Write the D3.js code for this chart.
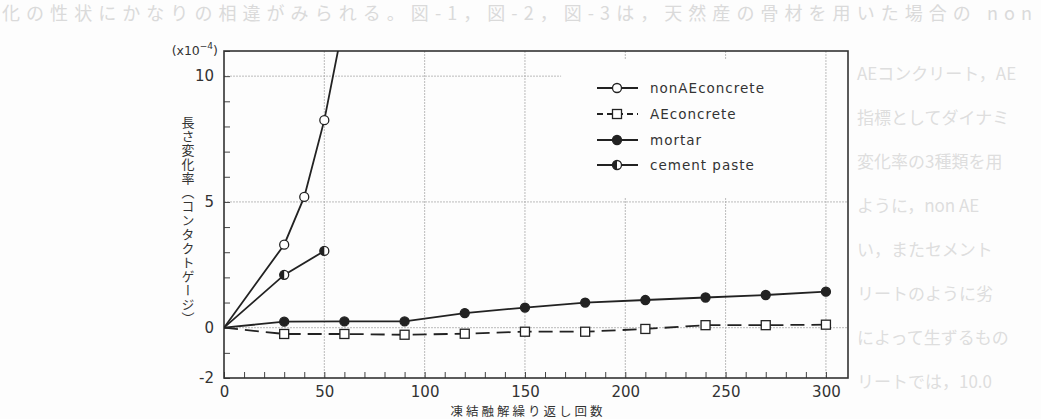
<!DOCTYPE html>
<html>
<head>
<meta charset="utf-8">
<script src="https://cdn.jsdelivr.net/npm/d3@7"></script>
<style>
  body { margin: 0; background: #fdfdfd; }
  svg { display: block; }
  .tick text { font-family: "DejaVu Sans", sans-serif; font-size: 15px; fill: #333; }
</style>
</head>
<body>
<svg id="svg" width="1041" height="419"></svg>
<script>
// freeze-thaw length change, 4 materials

var cycles = [0, 30, 60, 90, 120, 150, 180, 210, 240, 270, 300];
var mortar = [0, 0.24, 0.25, 0.25, 0.58, 0.8, 1.0, 1.1, 1.2, 1.3, 1.43];
var aeConcrete = [0, -0.25, -0.25, -0.28, -0.24, -0.16, -0.16, -0.05, 0.1, 0.1, 0.12];

var nonAeCycles = [0, 30, 40, 50, 60];
var nonAe = [0, 3.3, 5.2, 8.25, 12.3];

var pasteCycles = [0, 30, 50];
var paste = [0, 2.1, 3.05];

var xLabels = [0, 50, 100, 150, 200, 250, 300];
var yLabels = [-2, 0, 5, 10];
var legendNames = ["nonAEconcrete", "AEconcrete", "mortar", "cement paste"];

// page text around the figure (faint in the scan)
var pageTop = "化の性状にかなりの相違がみられる。図-1，図-2，図-3は，天然産の骨材を用いた場合の non";
var pageSide = [
  "AEコンクリート，AE",
  "指標としてダイナミ",
  "変化率の3種類を用",
  "ように，non AE",
  "い，またセメント",
  "リートのように劣",
  "によって生ずるもの",
  "リートでは，10.0"
];

var svg = d3.select("#svg");

svg.append("text").attr("x", 2).attr("y", 20).attr("textLength", 1030).attr("lengthAdjust", "spacing")
  .attr("font-family", "Noto Sans CJK JP").attr("font-size", 18).attr("fill", "#dadada").text(pageTop);
svg.selectAll(".side").data(pageSide).enter().append("text")
  .attr("x", 857).attr("y", function(d, i){ return 80 + i * 44; })
  .attr("font-family", "Noto Sans CJK JP").attr("font-size", 17).attr("fill", "#dedede")
  .text(function(d){ return d; });

var x = d3.scaleLinear().domain([0, 311]).range([224, 848]);
var y = d3.scaleLinear().domain([-2, 11]).range([378, 51]);

// grid (the 10 line stops short of the legend)
var grid = svg.append("g").attr("stroke", "#aaa").attr("stroke-width", 0.8).attr("stroke-dasharray", "2,1");
grid.selectAll(".gx").data([50, 100, 150, 200, 250, 300]).enter().append("line")
  .attr("x1", function(d){ return x(d); }).attr("x2", function(d){ return x(d); })
  .attr("y1", y(11)).attr("y2", y(-2));
grid.selectAll(".gy").data([0, 5, 10]).enter().append("line")
  .attr("x1", x(0)).attr("x2", function(d){ return d == 10 ? x(168) : x(311); })
  .attr("y1", function(d){ return y(d); }).attr("y2", function(d){ return y(d); });

// legend covers the grid
svg.append("rect").attr("x", 565).attr("y", 60).attr("width", 235).attr("height", 138).attr("fill", "#fdfdfd");

// axes
var xAxis = d3.axisBottom(x).tickValues(d3.range(0, 301, 10)).tickSize(-6).tickPadding(8)
  .tickFormat(function(d){ return xLabels.indexOf(d) >= 0 ? d : ""; });
var gx = svg.append("g").attr("transform", "translate(0," + y(-2) + ")").call(xAxis);
gx.select(".domain").remove();

var yAxis = d3.axisLeft(y).tickValues(d3.range(-2, 12, 1)).tickSize(-6).tickPadding(10)
  .tickFormat(function(d){ return yLabels.indexOf(d) >= 0 ? d : ""; });
var gy = svg.append("g").attr("transform", "translate(" + x(0) + ",0)").call(yAxis);
gy.select(".domain").remove();
svg.selectAll(".tick line").attr("stroke", "#444").attr("stroke-width", 1);

svg.append("rect").attr("x", x(0)).attr("y", y(11)).attr("width", x(311) - x(0)).attr("height", y(-2) - y(11))
  .attr("fill", "none").attr("stroke", "#333").attr("stroke-width", 1.6);

// clip
svg.append("clipPath").attr("id", "plot").append("rect")
  .attr("x", x(0)).attr("y", y(11)).attr("width", x(311) - x(0)).attr("height", y(-2) - y(11));

var plot = svg.append("g").attr("clip-path", "url(#plot)");
var line = d3.line().x(function(d){ return x(d[0]); }).y(function(d){ return y(d[1]); });

var zipped = function(xs, ys){ return xs.map(function(v, i){ return [v, ys[i]]; }); };

var series = [
  { pts: zipped(nonAeCycles, nonAe), dash: null, legDash: null, mark: "open" },
  { pts: zipped(cycles, aeConcrete), dash: "14,7", legDash: "6,4", mark: "square" },
  { pts: zipped(cycles, mortar), dash: null, legDash: null, mark: "dot" },
  { pts: zipped(pasteCycles, paste), dash: null, legDash: null, mark: "half" }
];

var marker = function(g, kind, cx, cy){
  if (kind == "square") {
    g.append("rect").attr("x", cx - 4.5).attr("y", cy - 4.5).attr("width", 9).attr("height", 9)
      .attr("fill", "#fff").attr("stroke", "#222").attr("stroke-width", 1.3);
  } else if (kind == "half") {
    g.append("circle").attr("cx", cx).attr("cy", cy).attr("r", 4.5).attr("fill", "#fff").attr("stroke", "#222").attr("stroke-width", 1.3);
    g.append("path").attr("d", "M" + cx + "," + (cy - 4.5) + "A4.5,4.5 0 0,0 " + cx + "," + (cy + 4.5) + "Z").attr("fill", "#222");
  } else {
    g.append("circle").attr("cx", cx).attr("cy", cy).attr("r", 4.5)
      .attr("fill", kind == "dot" ? "#222" : "#fff").attr("stroke", "#222").attr("stroke-width", 1.3);
  }
};

series.forEach(function(s){
  plot.append("path").attr("d", line(s.pts)).attr("fill", "none").attr("stroke", "#222")
    .attr("stroke-width", 1.8).attr("stroke-dasharray", s.dash);
});
series.forEach(function(s){
  s.pts.slice(1).forEach(function(p){
    if (y(p[1]) > y(11)) marker(plot, s.mark, x(p[0]), y(p[1]));
  });
});

// legend
var legY = [88, 114, 140, 165];
legendNames.forEach(function(name, i){
  var g = svg.append("g");
  g.append("line").attr("x1", 597).attr("x2", 638).attr("y1", legY[i]).attr("y2", legY[i])
    .attr("stroke", "#222").attr("stroke-width", 1.8).attr("stroke-dasharray", series[i].legDash);
  marker(g, series[i].mark, 617, legY[i]);
  g.append("text").attr("x", 650).attr("y", legY[i] + 5).text(name)
    .attr("font-family", "DejaVu Sans, sans-serif").attr("font-size", 13.5).attr("letter-spacing", 1).attr("fill", "#333");
});

// axis titles
var ut = svg.append("text").attr("x", 218).attr("y", 55).attr("text-anchor", "end")
  .attr("font-family", "DejaVu Sans, sans-serif").attr("font-size", 12.5).attr("fill", "#333");
ut.append("tspan").text("(x10");
ut.append("tspan").attr("dy", -6).attr("font-size", 9).text("−4");
ut.append("tspan").attr("dy", 6).text(")");

svg.append("text").attr("x", 188).attr("y", 116)
  .style("writing-mode", "vertical-rl")
  .attr("font-family", "Noto Sans CJK JP").attr("font-size", 13).attr("letter-spacing", 1).attr("fill", "#333")
  .text("長さ変化率（コンタクトゲージ）");

svg.append("text").attr("x", 528).attr("y", 416).attr("text-anchor", "middle")
  .attr("font-family", "Noto Sans CJK JP").attr("font-size", 12.5).attr("letter-spacing", 3).attr("fill", "#333")
  .text("凍結融解繰り返し回数");
</script>
</body>
</html>
